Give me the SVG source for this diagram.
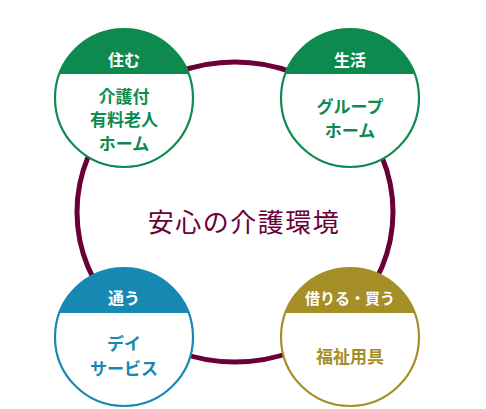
<svg xmlns="http://www.w3.org/2000/svg" width="486" height="409" viewBox="0 0 486 409">
<style>
.ring{fill:none;stroke:#6a0035;stroke-width:5}
.node{fill:#fff;stroke-width:2.2}
.hd{fill:#fff;font-family:"Noto Sans CJK JP","Noto Sans",sans-serif;font-weight:700;font-size:16px;text-anchor:middle;dominant-baseline:central}
.bd{font-family:"Noto Sans CJK JP","Noto Sans",sans-serif;font-weight:700;font-size:17px;text-anchor:middle;dominant-baseline:central}
.green{stroke:#0f8a4f}.gfill{fill:#0f8a4f}
.blue{stroke:#1688b2}.bfill{fill:#1688b2}
.gold{stroke:#a68e27}.yfill{fill:#a68e27}
.title{font-family:"Noto Sans CJK JP",sans-serif;font-size:26px;fill:#6a0035;text-anchor:middle;dominant-baseline:central;letter-spacing:1.5px}
</style>
<rect width="486" height="409" fill="#fff"/>
<g id="connectors">
<ellipse class="ring" cx="235" cy="212" rx="158" ry="150"/>
</g>
<text class="title" x="244" y="220">安心の介護環境</text>
<g id="node-sumu">
<circle class="node green" cx="124" cy="98" r="69"/>
<path class="gfill" d="M59.3 74 A69 69 0 0 1 188.7 74 Z"/>
<text class="hd" x="124" y="58.5">住む</text>
<text class="bd gfill" x="124" y="95">介護付</text>
<text class="bd gfill" x="124" y="118">有料老人</text>
<text class="bd gfill" x="124" y="142">ホーム</text>
</g>
<g id="node-seikatsu">
<circle class="node green" cx="350" cy="98" r="69"/>
<path class="gfill" d="M285.3 74 A69 69 0 0 1 414.7 74 Z"/>
<text class="hd" x="350" y="59">生活</text>
<text class="bd gfill" x="350" y="105">グループ</text>
<text class="bd gfill" x="350" y="129.5">ホーム</text>
</g>
<g id="node-kayou">
<circle class="node blue" cx="124" cy="337" r="69"/>
<path class="bfill" d="M59.3 313 A69 69 0 0 1 188.7 313 Z"/>
<text class="hd" x="124" y="296.5">通う</text>
<text class="bd bfill" x="124" y="342">デイ</text>
<text class="bd bfill" x="124" y="367">サービス</text>
</g>
<g id="node-kariru">
<circle class="node gold" cx="350" cy="337" r="69"/>
<path class="yfill" d="M285.3 313 A69 69 0 0 1 414.7 313 Z"/>
<text class="hd" x="350" y="297" style="font-size:15px">借りる・買う</text>
<text class="bd yfill" x="350" y="355">福祉用具</text>
</g>
</svg>
